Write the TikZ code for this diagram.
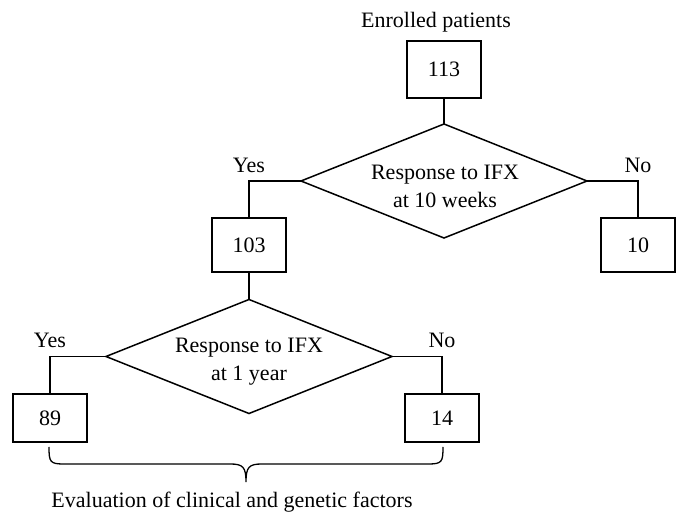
\documentclass[tikz,border=0pt]{standalone}
\usepackage{fontspec}
\setmainfont{Liberation Serif}
\usetikzlibrary{shapes.geometric}
\begin{document}
\begin{tikzpicture}[x=1pt,y=1pt,
  every node/.style={font=\fontsize{22}{26}\selectfont},
  numbox/.style={draw, line width=1.5pt, minimum width=74pt, inner sep=0pt, outer sep=0pt},
  decision/.style={draw, diamond, line width=1.5pt, minimum width=286pt, minimum height=114pt, inner sep=0pt, outer sep=0pt},
  dtext/.style={align=center, inner sep=0pt, font=\fontsize{22}{28}\selectfont},
  branch/.style={above=8pt, inner sep=0pt},
  conn/.style={line width=1.5pt}]
\useasboundingbox (0,0) rectangle (689,-526);
\node (title) at (436,-22) {Enrolled patients};
\node[numbox, minimum height=57pt] (b113) at (444,-69.5) {113};
\node[decision] (d1) at (444,-181) {};
\node[dtext] (t1) at (445,-186) {Response to IFX\\at 10 weeks};
\node[numbox, minimum height=54pt] (b103) at (249,-245) {103};
\node[numbox, minimum height=54pt] (b10) at (638,-245) {10};
\node[decision] (d2) at (249,-356.5) {};
\node[dtext] (t2) at (249,-361.5) {Response to IFX\\at 1 year};
\node[numbox, minimum height=48pt] (b89) at (50,-418) {89};
\node[numbox, minimum height=48pt] (b14) at (442,-418) {14};
\draw[conn] (b113.south) -- (d1.north);
\draw[conn] (d1.west) -| node[branch, pos=0.5] (y1) {Yes} (b103.north);
\draw[conn] (d1.east) -| node[branch, pos=0.5] (n1) {No} (b10.north);
\draw[conn] (b103.south) -- (d2.north);
\draw[conn] (d2.west) -| node[branch, pos=0.5] (y2) {Yes} (b89.north);
\draw[conn] (d2.east) -| node[branch, pos=0.5] (n2) {No} (b14.north);
% brace
\coordinate (bl) at (49,-447);
\coordinate (br) at (443,-447);
\coordinate (btip) at (246,-482);
\draw[line width=1.3pt] (bl) .. controls (49,-462) and (50,-464) .. (64,-464)
  -- (230,-464) .. controls (243,-464) and (246,-467) .. (btip)
  .. controls (246,-467) and (249,-464) .. (262,-464)
  -- (428,-464) .. controls (442,-464) and (443,-462) .. (br);
\node (eval) at (232,-502) {Evaluation of clinical and genetic factors};
\end{tikzpicture}
\end{document}
